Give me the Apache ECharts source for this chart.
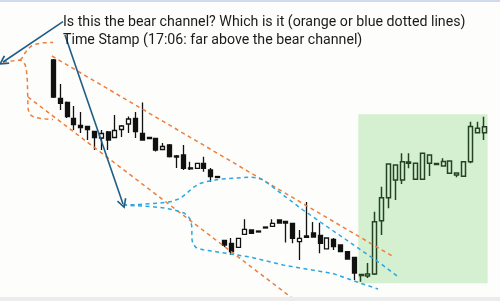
<!DOCTYPE html>
<html><head><meta charset="utf-8">
<script src="https://cdn.jsdelivr.net/npm/echarts@6/dist/echarts.min.js"></script>
<style>html,body{margin:0;padding:0;background:#fdfdfc}#c{width:500px;height:301px}</style>
</head><body><div id="c"></div>
<script>
// ---- candle data (price units) ----
const categories = ['1','2','3','4','5','6','7','8','9','10','11','12','13','14','15','16','17','18','19','20','21','22','23','24','25','26','27','28','29','30','31','32','33','34','35','36','37','38','39','40','41','42','43','44','45','46','47','48','49','50','51','52','53','54','55','56','57','58','59','60','61','62','63','64'];
const opens  = [241,202.7,198.5,182.7,175.5,174.5,169.5,163,169,163.5,171.5,177,182.7,167.7,163.5,162.5,151.5,156,145,146,133.2,132.7,137.7,131,124.5,60.5,57.5,53.7,66.7,71,70,74,74.7,81,79.5,77.5,59.3,63.7,68,65.5,52.2,61.5,56,49.3,43.5,26.5,25,27,80.3,103.3,136,121,139,137.7,121.7,146,137.5,135,140,128,124.7,139.3,172.7,168.3];
const closes = [204,197.7,184.3,176.5,173.5,171.5,163.5,167.5,161,170.5,175,182,169.3,161,162.5,151,154.5,144.3,144,132.7,132.2,137.7,132.7,124.3,123.5,56,49.5,62.7,71.7,67.7,69,73,77.7,78,78,62.7,62.7,65,64,57.7,63,54.5,49.3,42,28,25.5,27,79.3,103.3,137,121,139.3,137.7,121.7,147.7,137.7,136.5,139.5,127.7,126,139.3,174.5,168.3,174.3];
const lows   = [203,191,183,171,168,161,151,151,151,163,164,168,163,160.5,162,149.5,151,143.5,133,131,131,132.5,129.3,119,123.5,54,46,53.5,66.5,67.5,69,73,74.5,78,58.5,57.7,41,63.5,63.5,47.7,51.7,51,49,41.5,21,19.3,23,26,66,92.7,101,117,132.7,121.5,121.5,125,136.5,134.3,127.5,123.7,124.5,137.7,167.7,161];
const highs  = [242,217,199.5,195,189,175,170,171,170,186,176,184.5,189,198.5,164,163,158,157,146,156,139.3,138,144.3,133,124.5,61,63,63,81.7,71,70,74,81.7,81,80,78,71,99,79,78.3,63.5,63,56.5,49.5,44,26.5,38,89.3,114.3,137.5,136.5,147.7,147.7,138,148,146.5,137.5,142.7,140.5,128.5,139.5,179.3,179.3,184.3];
const zoneFirstCandle = 45;

// ---- annotation drawings, in (bar index, price) ----
const orangeUpper   = [[-0.21,245],[49.66,44.5]];
const orangeLower   = [[-3.72,204],[35.48,0]];
const orangeBracketLow = [[-7.37,239],[-4.89,241],[-4.45,239.5],[-4.11,236],[-3.94,230],[-3.82,221],[-3.72,193],[-3.57,188.5],[-3.28,185.5],[-2.69,183.5],[-1.67,182.3],[-0.06,181.5]];
const orangeBracketTop = [[-4.89,241],[-4.52,243.5],[-4.16,248],[-3.64,252.5],[-3.21,255],[-2.69,256.7],[-1.52,258.2],[-0.06,258.5]];
const blueUpper = [[10.18,96],[12.66,96.5],[15.59,98],[17.35,99.5],[18.51,102.5],[19.39,107],[20.41,113.5],[21.44,117.5],[22.46,119.5],[23.63,121],[24.65,122],[26.70,123],[28.75,124],[29.77,123.2],[30.51,121.5],[31.39,117.5],[36.50,91],[47.76,38],[50.39,24.3]];
const blueLower = [[10.18,96],[14.12,94.5],[16.31,93],[17.93,90.5],[19.10,88],[19.69,85],[20.05,81],[20.23,75],[20.27,61],[20.41,57],[20.85,53.5],[21.88,51.2],[23.78,49.3],[28.75,44],[33.58,36],[40.89,27.5],[44.84,18],[47.47,12]];
const arrowToBracket = [[1.40,279.3],[-7.37,239]];
const arrowToBlue    = [[1.69,266],[10.18,97]];
const zone = [[44.59,17.7],[63.70,186.7]];
const titleLines = ['Is this the bear channel? Which is it (orange or blue dotted lines)','Time Stamp (17:06: far above the bear channel)'];

const FONT_FAMILY = 'Roboto';
const TITLE_WIDTH = 402;
function fitFontSize(text) {
  const ctx = document.createElement('canvas').getContext('2d');
  ctx.font = '100px ' + FONT_FAMILY;
  return Math.round(TITLE_WIDTH / ctx.measureText(text).width * 1000) / 10;
}
const fontSize = fitFontSize(titleLines[0]);

const GREEN_DARK = '#234322';
const candleData = opens.map((o, i) => {
  const item = { value: [o, closes[i], lows[i], highs[i]] };
  if (i >= zoneFirstCandle) item.itemStyle = { color: 'rgba(0,0,0,0)', color0: GREEN_DARK, borderColor: GREEN_DARK, borderColor0: GREEN_DARK, borderWidth: 1.5 };
  return item;
});

const ORANGE = '#f07c3a', BLUE = '#2ba8df', ARROW = '#1f5e86';
function dashed(points, color) {
  return { type: 'lines', coordinateSystem: 'cartesian2d', xAxisIndex: 1, yAxisIndex: 0, polyline: true, clip: false, z: 6,
    silent: true, animation: false, lineStyle: { color, width: 1.5, type: [4, 3.5], opacity: 1 }, data: [{ coords: points }] };
}
const chevron = 'path://M5,0 L10,9 L8.6,10 L5,3.2 L1.4,10 L0,9 Z';
function arrow(coords) {
  return { type: 'lines', coordinateSystem: 'cartesian2d', xAxisIndex: 1, yAxisIndex: 0, clip: false, z: 7,
    symbol: ['none', chevron], symbolSize: [9, 10], silent: true, animation: false,
    lineStyle: { color: ARROW, width: 1.6, opacity: 1 }, data: [{ coords }] };
}

const chart = echarts.init(document.getElementById('c'), null, { renderer: 'canvas' });
chart.setOption({
  animation: false,
  backgroundColor: '#fdfdfc',
  grid: { left: 50, width: 437.6, top: 0, height: 301 },
  xAxis: [
    { type: 'category', data: categories, show: false, boundaryGap: true },
    { type: 'value', min: -0.5, max: 63.5, show: false }
  ],
  yAxis: { type: 'value', min: 0, max: 301, show: false },
  graphic: [
    { type: 'rect', shape: { x: 0, y: 0, width: 500, height: 2 }, style: { fill: '#cfdbea' }, z: 10 },
    { type: 'rect', shape: { x: 0, y: 297, width: 500, height: 4 }, style: { fill: '#ececec' }, z: 10 },
    { type: 'text', left: 63, top: 13, z: 10, style: { text: titleLines.join('\n'), font: fontSize + 'px ' + FONT_FAMILY, lineHeight: 18, fill: '#1b1b1b' } }
  ],
  series: [
    { type: 'line', xAxisIndex: 1, yAxisIndex: 0, data: [], z: 0,
      markArea: { silent: true, itemStyle: { color: '#d5f0d0' }, data: [[{ coord: zone[0] }, { coord: zone[1] }]] } },
    { type: 'candlestick', xAxisIndex: 0, yAxisIndex: 0, data: candleData, barWidth: 4.5, z: 5,
      itemStyle: { color: '#ffffff', color0: '#111111', borderColor: '#111111', borderColor0: '#111111', borderWidth: 1.3 } },
    dashed(orangeUpper, ORANGE),
    dashed(orangeLower, ORANGE),
    dashed(orangeBracketLow, ORANGE),
    dashed(orangeBracketTop, ORANGE),
    dashed(blueUpper, BLUE),
    dashed(blueLower, BLUE),
    arrow(arrowToBracket),
    arrow(arrowToBlue)
  ]
});
</script></body></html>
